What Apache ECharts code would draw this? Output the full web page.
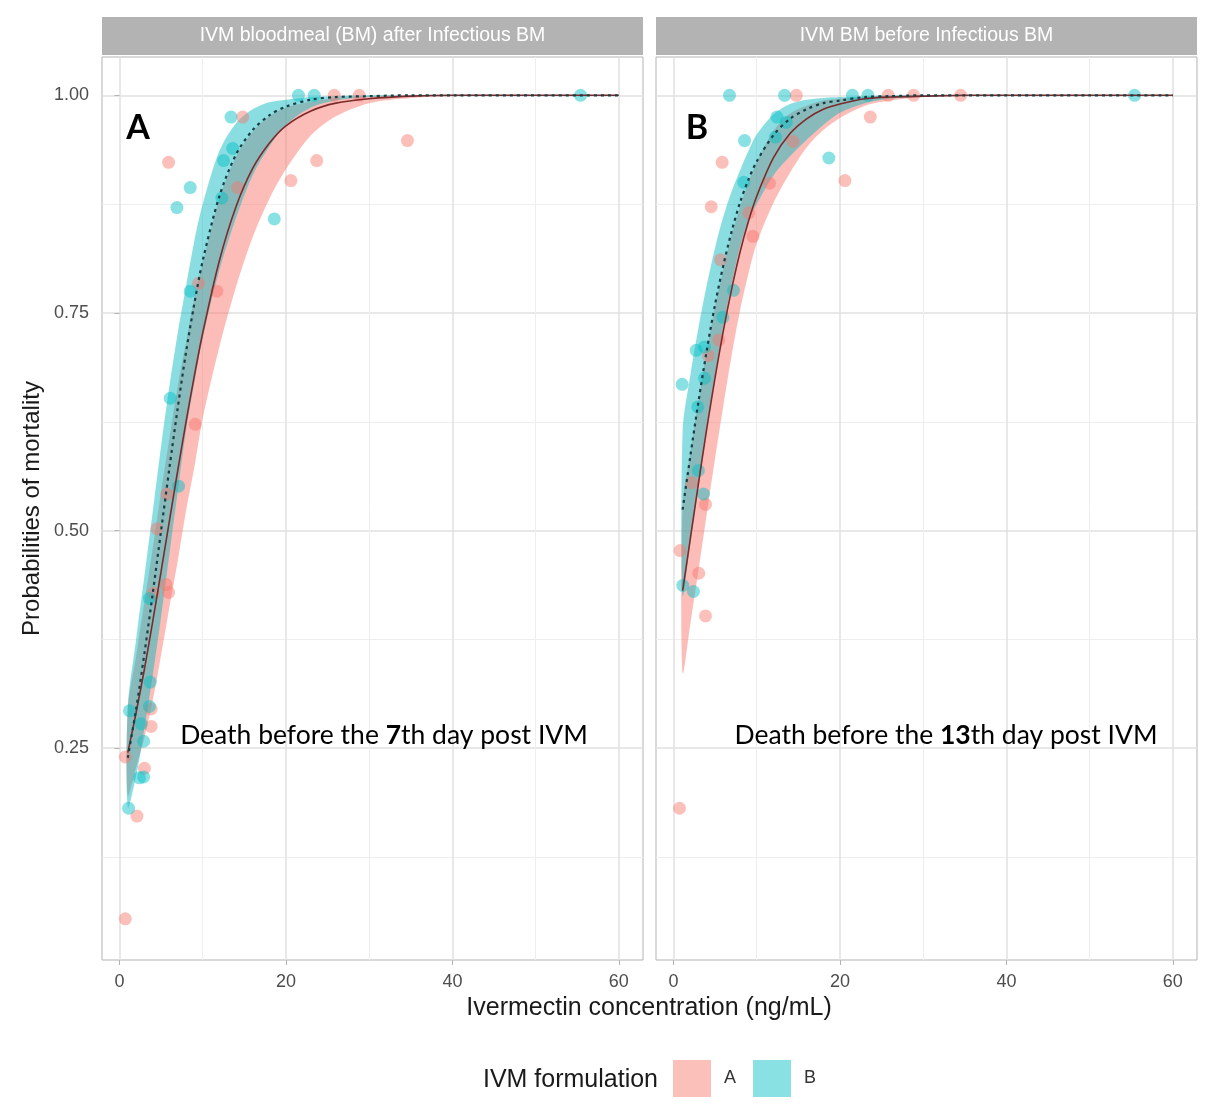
<!DOCTYPE html>
<html>
<head>
<meta charset="utf-8">
<script src="https://cdn.jsdelivr.net/npm/echarts@6/dist/echarts.min.js"></script>
<style>
  html, body { margin: 0; padding: 0; background: #fff; }
  #chart { width: 1208px; height: 1113px; }
</style>
</head>
<body>
<div id="chart"></div>
<script>
// panel titles and legend
var panelTitles = ['IVM bloodmeal (BM) after Infectious BM', 'IVM BM before Infectious BM'];
var formulations = ['A', 'B'];
var xTicks = [0, 20, 40, 60];
var yTicks = [0.25, 0.50, 0.75, 1.00];

// observed points, panel 1 (IVM BM after infectious BM)
var p1A_x = [0.7, 0.7, 2.1, 3.0, 3.8, 3.8, 4.1, 5.6, 5.9, 4.5, 5.7, 9.1, 9.5, 11.7, 14.2, 5.9, 14.8, 20.6, 23.7, 34.6, 25.8, 28.8];
var p1A_y = [0.240, 0.054, 0.172, 0.227, 0.275, 0.295, 0.428, 0.438, 0.429, 0.502, 0.542, 0.622, 0.784, 0.775, 0.894, 0.923, 0.975, 0.902, 0.925, 0.948, 1.0, 1.0];
var p1B_x = [1.1, 2.4, 2.9, 2.9, 2.6, 1.2, 3.6, 3.7, 3.6, 7.1, 6.1, 8.5, 8.5, 6.9, 12.3, 12.5, 13.6, 13.4, 18.6, 21.5, 23.4, 55.4];
var p1B_y = [0.181, 0.216, 0.217, 0.258, 0.278, 0.293, 0.298, 0.326, 0.422, 0.551, 0.652, 0.775, 0.894, 0.871, 0.882, 0.925, 0.939, 0.975, 0.858, 1.0, 1.0, 1.0];

// observed points, panel 2 (IVM BM before infectious BM)
var p2A_x = [14.75, 25.8, 28.85, 34.5, 23.65, 14.35, 5.85, 20.6, 11.54, 4.53, 9.05, 9.53, 5.65, 5.45, 4.2, 2.2, 3.85, 0.8, 3.04, 3.85, 0.72];
var p2A_y = [1.0, 1.0, 1.0, 1.0, 0.975, 0.947, 0.923, 0.902, 0.899, 0.872, 0.865, 0.838, 0.811, 0.719, 0.701, 0.555, 0.530, 0.477, 0.451, 0.402, 0.181];
var p2B_x = [6.73, 13.35, 21.5, 23.36, 55.4, 12.43, 13.55, 12.26, 8.54, 18.67, 8.45, 7.21, 5.93, 2.73, 3.73, 1.04, 3.73, 2.92, 3.0, 3.6, 1.12, 2.4];
var p2B_y = [1.0, 1.0, 1.0, 1.0, 1.0, 0.975, 0.969, 0.952, 0.948, 0.928, 0.900, 0.776, 0.745, 0.707, 0.711, 0.668, 0.675, 0.642, 0.569, 0.542, 0.437, 0.430];

// fitted curves and confidence bands
var c1_x = [1, 2, 3, 4, 5, 6, 7, 8, 9, 10, 12, 14, 16, 18, 20, 23, 26, 30, 35, 40, 50, 60];
var c1A_fit = [0.245, 0.291, 0.341, 0.396, 0.453, 0.511, 0.569, 0.625, 0.678, 0.727, 0.810, 0.872, 0.916, 0.945, 0.965, 0.982, 0.991, 0.996, 0.999, 1, 1, 1];
var c1A_lo = [0.195, 0.228, 0.262, 0.305, 0.357, 0.412, 0.465, 0.523, 0.573, 0.629, 0.711, 0.780, 0.837, 0.881, 0.915, 0.954, 0.976, 0.991, 0.997, 0.999, 1, 1];
var c1A_hi = [0.296, 0.356, 0.418, 0.480, 0.545, 0.606, 0.666, 0.717, 0.768, 0.807, 0.881, 0.929, 0.958, 0.976, 0.986, 0.993, 0.997, 0.999, 1, 1, 1, 1];
var c1B_fit = [0.239, 0.295, 0.359, 0.428, 0.500, 0.572, 0.641, 0.705, 0.761, 0.810, 0.884, 0.932, 0.960, 0.977, 0.987, 0.995, 0.998, 0.999, 1, 1, 1, 1];
var c1B_lo = [0.182, 0.218, 0.273, 0.334, 0.401, 0.473, 0.545, 0.615, 0.670, 0.721, 0.799, 0.859, 0.908, 0.941, 0.966, 0.986, 0.994, 0.998, 1, 1, 1, 1];
var c1B_hi = [0.298, 0.375, 0.448, 0.522, 0.597, 0.666, 0.727, 0.781, 0.833, 0.875, 0.936, 0.968, 0.984, 0.992, 0.995, 0.998, 0.999, 1, 1, 1, 1, 1];

var c2_x = [1.1, 2, 3, 4, 5, 6, 7, 8, 9, 10, 12, 14, 16, 18, 20, 23, 26, 30, 35, 40, 50, 60];
var c2A_fit = [0.431, 0.489, 0.554, 0.617, 0.676, 0.730, 0.778, 0.820, 0.855, 0.884, 0.928, 0.956, 0.973, 0.984, 0.990, 0.996, 0.998, 0.999, 1, 1, 1, 1];
var c2A_lo = [0.336, 0.391, 0.454, 0.519, 0.583, 0.644, 0.702, 0.753, 0.795, 0.830, 0.876, 0.911, 0.940, 0.960, 0.974, 0.988, 0.994, 0.998, 0.999, 1, 1, 1];
var c2A_hi = [0.530, 0.588, 0.649, 0.706, 0.757, 0.801, 0.840, 0.872, 0.900, 0.923, 0.959, 0.979, 0.988, 0.994, 0.996, 0.998, 0.999, 1, 1, 1, 1, 1];
var c2B_fit = [0.524, 0.584, 0.648, 0.707, 0.760, 0.805, 0.844, 0.877, 0.903, 0.924, 0.954, 0.973, 0.984, 0.991, 0.994, 0.998, 0.999, 1, 1, 1, 1, 1];
var c2B_lo = [0.425, 0.485, 0.552, 0.618, 0.679, 0.735, 0.784, 0.826, 0.856, 0.875, 0.908, 0.930, 0.949, 0.966, 0.980, 0.991, 0.996, 0.998, 1, 1, 1, 1];
var c2B_hi = [0.615, 0.677, 0.733, 0.782, 0.825, 0.861, 0.890, 0.914, 0.936, 0.955, 0.978, 0.990, 0.995, 0.997, 0.998, 0.999, 1, 1, 1, 1, 1, 1];

// layout
var PANEL_TOP = 57, PANEL_H = 903;
var panels = [{ left: 102, width: 541 }, { left: 656, width: 541 }];
var X_MIN = -2.1, X_MAX = 62.9, Y_MIN = 0.0067, Y_MAX = 1.044;

var pointA = 'rgba(248,118,109,0.58)', pointB = 'rgba(0,191,196,0.58)';
var bandA = 'rgba(248,118,109,0.48)', bandB = 'rgba(0,184,189,0.46)';
var lineA = '#7d2a2a', lineB = '#183f45';
var FONT = 'Liberation Sans';

function pairs(xs, ys) {
  return xs.map(function (x, i) { return [x, ys[i]]; });
}

function scatter(name, g, xs, ys, color) {
  return {
    name: name, type: 'scatter', xAxisIndex: g, yAxisIndex: g, z: 3,
    symbolSize: 13, itemStyle: { color: color }, silent: true,
    data: pairs(xs, ys)
  };
}

function band(g, xs, lo, hi, color) {
  return {
    name: 'band', type: 'custom', xAxisIndex: g, yAxisIndex: g, z: 2, silent: true,
    data: xs.map(function (x, i) { return [x, lo[i], hi[i]]; }),
    encode: { x: 0, y: [1, 2] },
    renderItem: function (params, api) {
      if (params.dataIndex !== 0) return null;
      var pts = [];
      for (var i = 0; i < xs.length; i++) pts.push(api.coord([xs[i], hi[i]]));
      for (var j = xs.length - 1; j >= 0; j--) pts.push(api.coord([xs[j], lo[j]]));
      return {
        type: 'polygon',
        shape: { points: pts, smooth: 0.3 },
        style: { fill: color }
      };
    }
  };
}

function curve(g, xs, ys, color, dash, width) {
  return {
    name: 'fit', type: 'line', xAxisIndex: g, yAxisIndex: g, z: 4, silent: true,
    symbol: 'none', showSymbol: false, smooth: 0.3,
    lineStyle: { color: color, width: width, type: dash },
    data: pairs(xs, ys)
  };
}

function xAxisFor(g) {
  return {
    gridIndex: g, type: 'value', min: X_MIN, max: X_MAX,
    minInterval: 20, maxInterval: 20,
    axisLine: { show: false },
    axisTick: { show: true, length: 5, lineStyle: { color: '#b3b3b3' } },
    axisLabel: {
      show: true, showMinLabel: false, showMaxLabel: false, margin: 13,
      color: '#4d4d4d', fontSize: 18, fontFamily: FONT,
      formatter: function (v) { return xTicks.indexOf(v) >= 0 ? String(v) : ''; }
    },
    splitLine: { show: true, showMinLine: false, showMaxLine: false, lineStyle: { color: '#e0e0e0', width: 1.5 } },
    minorTick: { show: false, splitNumber: 2 },
    minorSplitLine: { show: true, lineStyle: { color: '#eeeeee', width: 1 } }
  };
}

function yAxisFor(g) {
  var first = g === 0;
  return {
    gridIndex: g, type: 'value', min: Y_MIN, max: Y_MAX,
    minInterval: 0.25, maxInterval: 0.25,
    name: first ? 'Probabilities of mortality' : '',
    nameLocation: 'middle', nameRotate: 90, nameGap: 58,
    nameTextStyle: { fontSize: 24, color: '#1a1a1a', fontFamily: FONT },
    axisLine: { show: false },
    axisTick: { show: first, length: 5, lineStyle: { color: '#b3b3b3' } },
    axisLabel: {
      show: first, showMinLabel: false, showMaxLabel: false, margin: 13,
      color: '#4d4d4d', fontSize: 18, fontFamily: FONT,
      formatter: function (v) {
        var hit = yTicks.filter(function (t) { return Math.abs(t - v) < 1e-6; });
        return hit.length ? v.toFixed(2) : '';
      }
    },
    splitLine: { show: true, showMinLine: false, showMaxLine: false, lineStyle: { color: '#e0e0e0', width: 1.5 } },
    minorTick: { show: false, splitNumber: 2 },
    minorSplitLine: { show: true, lineStyle: { color: '#eeeeee', width: 1 } }
  };
}

function txt(x, y, text, size, color, align, weight, family) {
  return {
    type: 'text', x: x, y: y, silent: true, z: 10,
    style: {
      text: text, fill: color, fontSize: size, fontWeight: weight || 'normal',
      fontFamily: family || FONT,
      align: align, verticalAlign: 'middle', textAlign: align, textVerticalAlign: 'middle'
    }
  };
}

function note(cx, num) {
  return {
    type: 'text', x: cx, y: 735, silent: true, z: 10,
    style: {
      text: '{n|Death before the }{b|' + num + '}{n|th day post IVM}',
      align: 'center', verticalAlign: 'middle', textAlign: 'center', textVerticalAlign: 'middle',
      rich: {
        n: { fontSize: 26.5, fontFamily: 'Lato', fill: '#000', color: '#000' },
        b: { fontSize: 26.5, fontFamily: 'Lato', fontWeight: 'bold', fill: '#000', color: '#000' }
      }
    }
  };
}

var graphics = [];
panels.forEach(function (p, i) {
  graphics.push({
    type: 'rect', x: p.left, y: 17, silent: true, z: 1,
    shape: { width: p.width, height: 38 },
    style: { fill: '#b3b3b3' }
  });
  graphics.push(txt(p.left + p.width / 2, 36, panelTitles[i], 19.5, '#ffffff', 'center'));
});
graphics.push(txt(138, 128, 'A', 34, '#000', 'center', 'bold', 'Lato'));
graphics.push(txt(697, 128, 'B', 34, '#000', 'center', 'bold', 'Lato'));
graphics.push(note(384, '7'));
graphics.push(note(946, '13'));
graphics.push(txt(649, 1008, 'Ivermectin concentration (ng/mL)', 25, '#1a1a1a', 'center'));
graphics.push(txt(658, 1080, 'IVM formulation', 25, '#1a1a1a', 'right'));

var chart = echarts.init(document.getElementById('chart'), null, { renderer: 'canvas' });

chart.setOption({
  animation: false,
  backgroundColor: '#ffffff',
  grid: panels.map(function (p) {
    return {
      left: p.left, top: PANEL_TOP, width: p.width, height: PANEL_H,
      show: true, borderColor: '#b3b3b3', borderWidth: 1, backgroundColor: '#ffffff',
      containLabel: false, outerBoundsMode: 'none'
    };
  }),
  xAxis: [xAxisFor(0), xAxisFor(1)],
  yAxis: [yAxisFor(0), yAxisFor(1)],
  legend: {
    data: formulations, left: 673, top: 1060, orient: 'horizontal', padding: 0,
    icon: 'rect', itemWidth: 38, itemHeight: 37, itemGap: 17, selectedMode: false,
    textStyle: { fontSize: 18, color: '#333', fontFamily: FONT, padding: [4, 0, 0, 8] }
  },
  graphic: graphics,
  series: [
    scatter('A', 0, p1A_x, p1A_y, pointA),
    scatter('B', 0, p1B_x, p1B_y, pointB),
    scatter('A', 1, p2A_x, p2A_y, pointA),
    scatter('B', 1, p2B_x, p2B_y, pointB),
    band(0, c1_x, c1A_lo, c1A_hi, bandA),
    band(0, c1_x, c1B_lo, c1B_hi, bandB),
    band(1, c2_x, c2A_lo, c2A_hi, bandA),
    band(1, c2_x, c2B_lo, c2B_hi, bandB),
    curve(0, c1_x, c1A_fit, lineA, 'solid', 1.6),
    curve(0, c1_x, c1B_fit, lineB, [3, 4], 2.2),
    curve(1, c2_x, c2A_fit, lineA, 'solid', 1.6),
    curve(1, c2_x, c2B_fit, lineB, [3, 4], 2.2)
  ]
});
</script>
</body>
</html>
